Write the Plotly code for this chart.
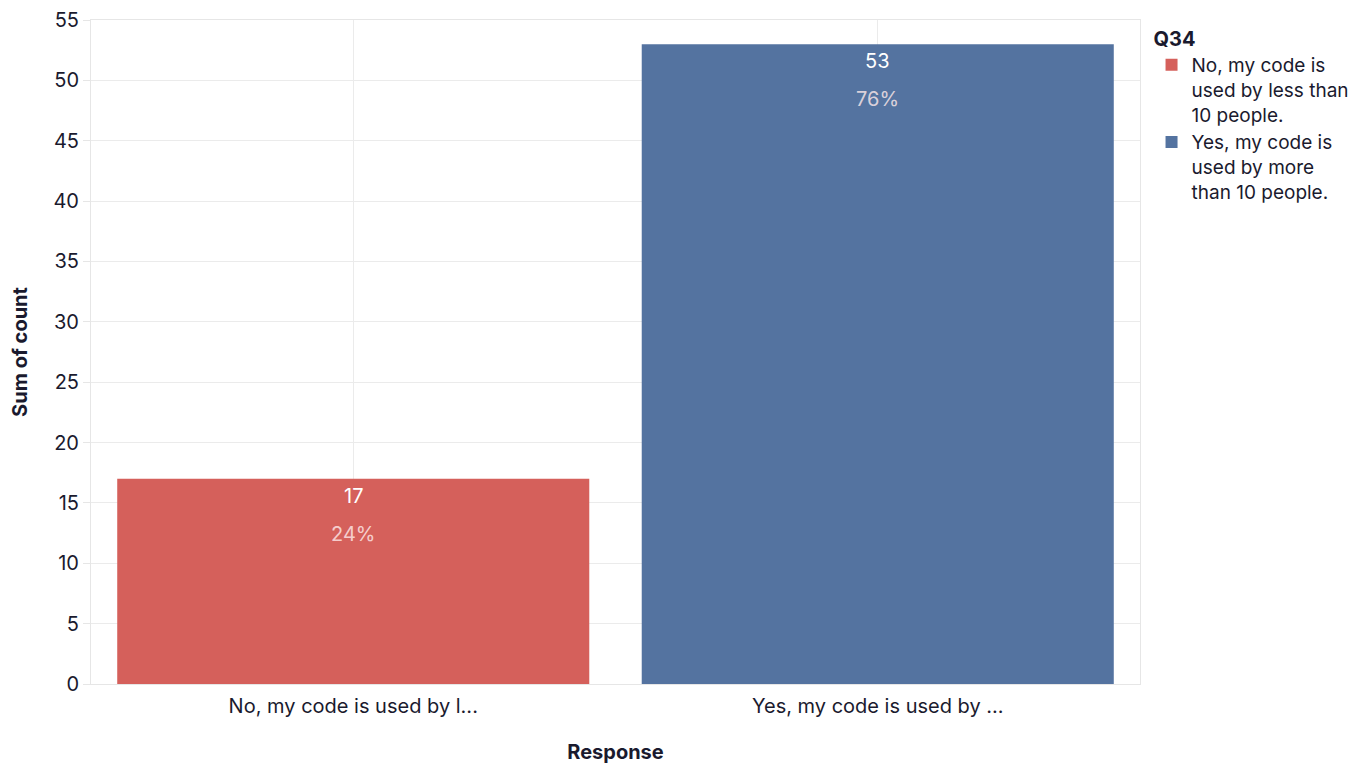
import plotly.graph_objects as go

categories = ["No, my code is used by less than 10 people.",
              "Yes, my code is used by more than 10 people."]
tick_labels = ["No, my code is used by l...", "Yes, my code is used by ..."]
legend_names = ["No, my code is<br>used by less than<br>10 people.",
                "Yes, my code is<br>used by more<br>than 10 people."]
counts = [17, 53]
percents = ["24%", "76%"]
colors = ["#d5605b", "#5473a0"]

FONT = "Inter, 'Noto Sans', sans-serif"
fig = go.Figure()
for cat, name, c, col in zip(categories, legend_names, counts, colors):
    fig.add_trace(go.Bar(x=[cat], y=[c], name=name, marker_color=col,
                         marker_line_width=0, showlegend=True))

for cat, c, p in zip(categories, counts, percents):
    fig.add_annotation(x=cat, y=c, text=str(c), showarrow=False, yanchor="middle",
                       yshift=-17, font=dict(size=20, color="white", family=FONT))
    fig.add_annotation(x=cat, y=c, text=p, showarrow=False, yanchor="middle",
                       yshift=-55, font=dict(size=20, color="rgba(255,235,235,0.8)", family=FONT))

fig.update_layout(
    width=1362, height=758,
    margin=dict(l=83, r=230, t=12, b=82, autoexpand=False),
    paper_bgcolor="white", plot_bgcolor="white",
    barmode="group", bargap=0.1,
    font=dict(family=FONT, size=19, color="#1a1a2e"),
    legend=dict(title=dict(text="<b>Q34</b>", font=dict(size=20)),
                x=1.011, y=1.0, xanchor="left", yanchor="top", valign="top",
                font=dict(size=19), tracegroupgap=4, itemwidth=30),
    xaxis=dict(title=dict(text="<b>Response</b>", font=dict(size=20), standoff=27),
               tickvals=categories, ticktext=tick_labels, automargin=False,
               showgrid=True, gridcolor="#ebebeb", showline=True, linecolor="#e6e6e6",
               mirror=True, ticks="outside", ticklen=4, tickcolor="rgba(0,0,0,0)",
               tickfont=dict(size=20), ticklabeloverflow="allow"),
    yaxis=dict(title=dict(text="<b>Sum of count</b>", font=dict(size=20), standoff=21),
               range=[0, 55], dtick=5, showgrid=True, gridcolor="#ebebeb", automargin=False,
               showline=True, linecolor="#e6e6e6", mirror=True,
               ticks="outside", ticklen=7, tickcolor="#e6e6e6", tickfont=dict(size=20),
               zeroline=False, ticklabeloverflow="allow"),
)
fig.write_html("out.html")
